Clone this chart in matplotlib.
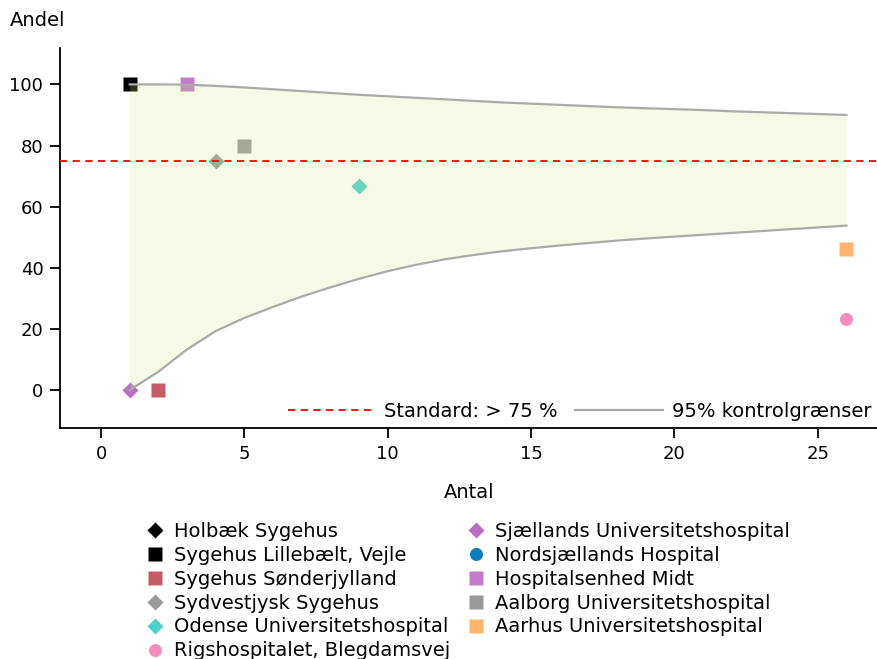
import numpy as np
import matplotlib
matplotlib.use("Agg")
import matplotlib.pyplot as plt

# hospitals: number of patients (Antal) and share in percent (Andel)
hospitals = ["Holbæk Sygehus", "Sygehus Lillebælt, Vejle", "Sygehus Sønderjylland",
             "Sydvestjysk Sygehus", "Odense Universitetshospital", "Rigshospitalet, Blegdamsvej",
             "Sjællands Universitetshospital", "Nordsjællands Hospital", "Hospitalsenhed Midt",
             "Aalborg Universitetshospital", "Aarhus Universitetshospital"]
antal = [[], [1], [2], [4], [9], [26], [1], [], [3], [5], [26]]
andel = [[], [100], [0], [75], [66.7], [23.1], [0], [], [100], [80], [46.2]]
markers = ["D", "s", "s", "D", "D", "o", "D", "o", "s", "s", "s"]
colors = ["#000000", "#000000", "#c65c66", "#999999", "#4fd0cc", "#f78cc0",
          "#bb6dc6", "#0e7dbf", "#c27bc8", "#999999", "#fdb46e"]

# 95% control limits
limit_n = [1, 2, 3, 4, 5, 6, 7, 8, 9, 10, 11, 12, 13, 14, 15, 16, 17, 18, 19, 20,
           21, 22, 23, 24, 25, 26]
upper = [100, 100, 99.9, 99.5, 99.0, 98.4, 97.8, 97.2, 96.6, 96.1, 95.6, 95.1, 94.6,
         94.1, 93.7, 93.3, 92.9, 92.5, 92.2, 91.9, 91.6, 91.2, 90.9, 90.6, 90.3, 90.0]
lower = [0, 6.0, 13.3, 19.3, 23.6, 27.2, 30.6, 33.6, 36.4, 38.9, 41.0, 42.8, 44.2,
         45.4, 46.4, 47.3, 48.1, 48.9, 49.6, 50.2, 50.8, 51.4, 52.0, 52.6, 53.2, 53.8]
standard = 75

fig = plt.figure(figsize=(8.78, 6.59), dpi=100)
ax = fig.add_axes([60 / 878, 1 - 428 / 659, 818 / 878, 380 / 659])

handles = []
for name, x, y, m, c in zip(hospitals, antal, andel, markers, colors):
    ms = 8.2 if m == "D" else 9.4
    h, = ax.plot(x, y, linestyle="none", marker=m, ms=ms, color=c, mec="none",
                 label=name, zorder=2)
    handles.append(h)

ax.fill_between(limit_n, lower, upper, color="#d6e485", alpha=0.21, lw=0, zorder=3)
std_line = ax.axhline(standard, color="red", lw=1.3, ls=(0, (4, 3)), zorder=5,
                      label="Standard: > 75 %")
lim_line, = ax.plot(limit_n, upper, color="#aaaaaa", lw=1.6, zorder=4,
                    label="95% kontrolgrænser")
ax.plot(limit_n, lower, color="#aaaaaa", lw=1.6, zorder=4)

ax.set_xlim(-1.43, 27.1)
ax.set_ylim(-12.4, 111.9)
ax.set_xticks([0, 5, 10, 15, 20, 25])
ax.set_yticks([0, 20, 40, 60, 80, 100])
ax.tick_params(labelsize=13, length=7, width=1.3, pad=5)
for side in ["top", "right"]:
    ax.spines[side].set_visible(False)
for side in ["left", "bottom"]:
    ax.spines[side].set_linewidth(1.3)

ax.set_xlabel("Antal", fontsize=14, labelpad=15)
fig.text(10 / 878, 1 - 20 / 659, "Andel", fontsize=14, ha="left", va="center")

ax.legend(handles=[std_line, lim_line], loc="lower right", ncol=2, frameon=False,
          fontsize=14, handlelength=4.5, handletextpad=0.45, columnspacing=0.9,
          borderaxespad=0.25, borderpad=0.1)

fig.legend(handles=handles, loc="upper left", bbox_to_anchor=(145 / 878, 1 - 522 / 659),
           ncol=2, frameon=False, fontsize=14, handlelength=1.0, handletextpad=0.5,
           columnspacing=0.8, labelspacing=0.25, borderpad=0, borderaxespad=0)

fig.savefig("out.png", dpi=100)
